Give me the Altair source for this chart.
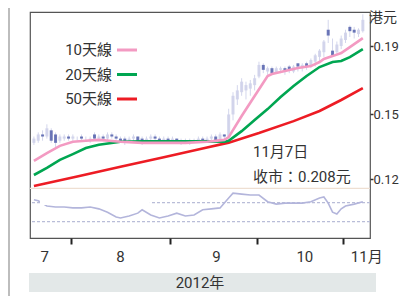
import altair as alt
import pandas as pd

# ---------------- data ----------------
# trading-day index: 0 = 19 Jul 2012 ... 76 = 7 Nov 2012
days = list(range(77))
low = [0.135, 0.136, 0.137, 0.138, 0.136, 0.134, 0.136, 0.137, 0.137, 0.137,
       0.137, 0.137, 0.137, 0.136, 0.137, 0.137, 0.137, 0.137, 0.138, 0.137,
       0.136, 0.135, 0.136, 0.137, 0.136, 0.135, 0.136, 0.136, 0.137, 0.136,
       0.136, 0.136, 0.136, 0.136, 0.135, 0.136, 0.135, 0.136, 0.136, 0.136,
       0.136, 0.137, 0.137, 0.137, 0.137, 0.138, 0.147, 0.155, 0.160, 0.158,
       0.160, 0.163, 0.170, 0.173, 0.172, 0.172, 0.173, 0.173, 0.172, 0.173,
       0.173, 0.174, 0.174, 0.175, 0.176, 0.177, 0.180, 0.183, 0.192, 0.183,
       0.185, 0.188, 0.192, 0.196, 0.195, 0.196, 0.199]
high = [0.139, 0.141, 0.142, 0.145, 0.143, 0.141, 0.140, 0.140, 0.140, 0.140,
        0.139, 0.140, 0.139, 0.139, 0.141, 0.140, 0.140, 0.141, 0.141, 0.140,
        0.139, 0.139, 0.139, 0.140, 0.139, 0.139, 0.139, 0.140, 0.140, 0.139,
        0.139, 0.139, 0.139, 0.138, 0.138, 0.138, 0.138, 0.138, 0.139, 0.139,
        0.139, 0.140, 0.140, 0.141, 0.140, 0.153, 0.162, 0.166, 0.170, 0.168,
        0.169, 0.172, 0.180, 0.179, 0.177, 0.177, 0.177, 0.177, 0.177, 0.178,
        0.178, 0.179, 0.179, 0.180, 0.182, 0.185, 0.188, 0.194, 0.208, 0.195,
        0.193, 0.197, 0.201, 0.204, 0.203, 0.202, 0.212]
open_ = [0.136, 0.137, 0.140, 0.139, 0.142, 0.140, 0.137, 0.138, 0.139, 0.138,
         0.138, 0.139, 0.138, 0.137, 0.140, 0.138, 0.139, 0.138, 0.140, 0.139,
         0.138, 0.138, 0.136, 0.138, 0.139, 0.138, 0.136, 0.138, 0.139, 0.138,
         0.137, 0.138, 0.137, 0.138, 0.137, 0.136, 0.137, 0.136, 0.137, 0.138,
         0.137, 0.138, 0.139, 0.137, 0.140, 0.139, 0.150, 0.158, 0.162, 0.163,
         0.164, 0.166, 0.171, 0.178, 0.174, 0.176, 0.173, 0.175, 0.176, 0.177,
         0.174, 0.179, 0.176, 0.179, 0.177, 0.180, 0.183, 0.186, 0.201, 0.187,
         0.186, 0.190, 0.194, 0.203, 0.201, 0.198, 0.200]
close = [0.138, 0.140, 0.139, 0.143, 0.137, 0.136, 0.139, 0.139, 0.138, 0.139,
         0.138, 0.138, 0.138, 0.138, 0.138, 0.139, 0.138, 0.140, 0.139, 0.138,
         0.137, 0.136, 0.138, 0.139, 0.137, 0.136, 0.138, 0.139, 0.138, 0.137,
         0.138, 0.137, 0.138, 0.137, 0.136, 0.137, 0.136, 0.137, 0.138, 0.137,
         0.138, 0.139, 0.137, 0.140, 0.139, 0.150, 0.160, 0.163, 0.168, 0.166,
         0.167, 0.170, 0.178, 0.175, 0.176, 0.173, 0.176, 0.176, 0.174, 0.175,
         0.177, 0.177, 0.178, 0.177, 0.181, 0.184, 0.187, 0.193, 0.197, 0.184,
         0.191, 0.195, 0.199, 0.200, 0.199, 0.201, 0.208]

ma10_days = [0, 3, 6, 9, 12, 15, 20, 25, 30, 35, 40, 44, 45, 48, 51, 54, 55,
             58, 61, 64, 66, 67, 69, 71, 73, 76]
ma10 = [0.1278, 0.1313, 0.1346, 0.1365, 0.1370, 0.1374, 0.1365, 0.1360,
        0.1360, 0.1360, 0.1365, 0.1374, 0.1387, 0.1492, 0.1599, 0.1713,
        0.1725, 0.1743, 0.1761, 0.1773, 0.1798, 0.1817, 0.1835, 0.1855,
        0.1893, 0.1953]
ma20_days = [0, 3, 6, 9, 12, 15, 20, 25, 30, 35, 40, 44, 45, 48, 51, 54, 57,
             60, 63, 66, 69, 71, 73, 76]
ma20 = [0.1217, 0.1247, 0.1282, 0.1308, 0.1336, 0.1351, 0.1365, 0.1367,
        0.1367, 0.1367, 0.1367, 0.1365, 0.1370, 0.1416, 0.1472, 0.1528,
        0.1593, 0.1655, 0.1713, 0.1767, 0.1798, 0.1804, 0.1829, 0.1880]
ma50_days = [0, 10, 20, 30, 40, 45, 52, 60, 66, 71, 76]
ma50 = [0.1172, 0.1211, 0.1252, 0.1294, 0.1338, 0.1361, 0.1407, 0.1466,
        0.1518, 0.1577, 0.1643]

rsi_days = [0, 1, 3, 5, 7, 9, 11, 13, 15, 17, 19, 20, 22, 24, 25, 27, 29, 31,
            33, 35, 37, 39, 41, 43, 45, 46, 48, 50, 52, 54, 56, 58, 60, 62, 64,
            66, 67, 68, 69, 70, 71, 72, 74, 76]
rsi = [76, 74, 63, 61, 61, 59, 59, 61, 57, 50, 40, 38, 42, 48, 55, 44, 38, 42,
       48, 42, 44, 55, 57, 59, 80, 90, 88, 86, 86, 72, 67, 69, 69, 69, 72, 80,
       82, 69, 50, 46, 57, 63, 67, 72]
rsi_guides = [70, 30]
rsi_top = [100]
mask_box = {"x1": [1.4], "x2": [26.8], "y1": [65], "y2": [97]}

price_ticks = [0.12, 0.15, 0.19]
month_ticks = [8.5, 31.5, 51.5, 71.5]
month_labels = ["7", "8", "9", "10", "11月"]
month_label_pos = [2.5, 20.0, 42.2, 62.6, 76.9]
series_names = ["10天線", "20天線", "50天線"]
series_colors = ["#f39ac2", "#00a651", "#ed1c24"]
unit_label = "港元"
note_lines = ["11月7日", "收市：0.208元"]
year_label = "2012年"

# ---------------- styling ----------------
FONT = "Roboto, Noto Sans CJK TC, sans-serif"
TXT = "#333333"
W, H = 340, 226

xscale = alt.Scale(domain=[0.25, 76.5], nice=False, zero=False)
xaxis = alt.Axis(values=month_ticks, labels=False, ticks=True, tickSize=6,
                 tickWidth=2, tickColor="#222", domain=False, grid=False,
                 title=None)
pscale = alt.Scale(type="log", domain=[0.0979, 0.2137], nice=False, zero=False)
paxis = alt.Axis(orient="right", values=price_ticks, format=".2f", tickSize=3,
                 tickWidth=1.5, tickColor="#333", labelFontSize=13,
                 labelColor=TXT, labelFont=FONT, labelPadding=0, domain=False,
                 grid=False, title=None)
rscale = alt.Scale(domain=[-4.2, 470.5], nice=False, zero=False)

candles = pd.DataFrame({"day": days, "low": low, "high": high,
                        "open": open_, "close": close})

wick = alt.Chart(candles).mark_rule(color="#d3d6ec", strokeWidth=1, clip=True).encode(
    x=alt.X("day:Q", scale=xscale, axis=xaxis),
    y=alt.Y("low:Q", scale=pscale, axis=paxis),
    y2="high:Q",
)
body = alt.Chart(candles).mark_bar(size=3, clip=True).encode(
    x=alt.X("day:Q", scale=xscale),
    y=alt.Y("open:Q", scale=pscale),
    y2="close:Q",
    color=alt.condition("datum.close < datum.open", alt.value("#4a58a8"),
                        alt.value("#cfd2ea")),
    opacity=alt.condition("datum.close < datum.open", alt.value(0.8),
                          alt.value(0.9)),
)


def ma_layer(d, v, color):
    df = pd.DataFrame({"day": d, "price": v})
    return alt.Chart(df).mark_line(color=color, strokeWidth=2.6, clip=True).encode(
        x=alt.X("day:Q", scale=xscale),
        y=alt.Y("price:Q", scale=pscale),
    )


price = alt.layer(
    wick, body,
    ma_layer(ma50_days, ma50, series_colors[2]),
    ma_layer(ma20_days, ma20, series_colors[1]),
    ma_layer(ma10_days, ma10, series_colors[0]),
)

rsi_df = pd.DataFrame({"day": rsi_days, "rsi": rsi})
rsi_line = alt.Chart(rsi_df).mark_line(color="#b3b5db", strokeWidth=1.6, clip=True).encode(
    x=alt.X("day:Q", scale=xscale),
    y=alt.Y("rsi:Q", scale=rscale, axis=None),
)
guides = alt.Chart(pd.DataFrame({"v": rsi_guides})).mark_rule(
    color="#b9bdd8", strokeDash=[3, 2], strokeWidth=1.2).encode(
    y=alt.Y("v:Q", scale=rscale, axis=None))
top_line = alt.Chart(pd.DataFrame({"v": rsi_top})).mark_rule(
    color="#eedfd2", strokeWidth=1.2).encode(
    y=alt.Y("v:Q", scale=rscale, axis=None))
mask = alt.Chart(pd.DataFrame(mask_box)).mark_rect(color="white").encode(
    x=alt.X("x1:Q", scale=xscale), x2="x2:Q",
    y=alt.Y("y1:Q", scale=rscale, axis=None), y2="y2:Q")
rsi_panel = alt.layer(top_line, guides, rsi_line, mask)

one = pd.DataFrame({"a": [0]})
deco = []
# legend (label left of the line sample)
for i, (name, col) in enumerate(zip(series_names, series_colors)):
    yy = 38 + 24.5 * i
    deco.append(alt.Chart(one).mark_text(align="right", baseline="middle",
                                         font=FONT, fontSize=15, color=TXT).encode(
        x=alt.value(82), y=alt.value(yy), text=alt.value(name)))
    deco.append(alt.Chart(one).mark_rule(color=col, strokeWidth=3).encode(
        x=alt.value(87), x2=alt.value(107), y=alt.value(yy)))

# annotation
for i, t in enumerate(note_lines):
    deco.append(alt.Chart(one).mark_text(align="left", baseline="middle",
                                         font=FONT, fontSize=15, color=TXT).encode(
        x=alt.value(223), y=alt.value(140 + 25 * i), text=alt.value(t)))

# unit label
deco.append(alt.Chart(one).mark_text(align="right", baseline="top",
                                     font=FONT, fontSize=14, color=TXT).encode(
    x=alt.value(367), y=alt.value(-1), text=alt.value(unit_label)))

# month labels
months = pd.DataFrame({"pos": month_label_pos, "lab": month_labels})
deco.append(alt.Chart(months).mark_text(align="center", baseline="middle",
                                        font=FONT, fontSize=15, color=TXT).encode(
    x=alt.X("pos:Q", scale=xscale), y=alt.value(245), text="lab:N"))

# year band
deco.append(alt.Chart(one).mark_rect(color="#e3e8e8").encode(
    x=alt.value(-1), x2=alt.value(346), y=alt.value(261), y2=alt.value(280)))
deco.append(alt.Chart(one).mark_text(align="center", baseline="middle",
                                     font=FONT, fontSize=15, color=TXT).encode(
    x=alt.value(170), y=alt.value(271), text=alt.value(year_label)))

# page border at the left
deco.append(alt.Chart(one).mark_rule(color="#bdbdbd", strokeWidth=2).encode(
    x=alt.value(-21), y=alt.value(-4), y2=alt.value(284)))

chart = alt.layer(price, rsi_panel, *deco).resolve_scale(y="independent").properties(
    width=W, height=H,
    padding={"left": 22, "top": 4, "right": 29, "bottom": 58},
    autosize=alt.AutoSizeParams(type="none"),
    background="white",
).configure_view(stroke="#555", strokeWidth=1.2)

chart.save("out.html", embed_options={"renderer": "svg", "actions": False})
